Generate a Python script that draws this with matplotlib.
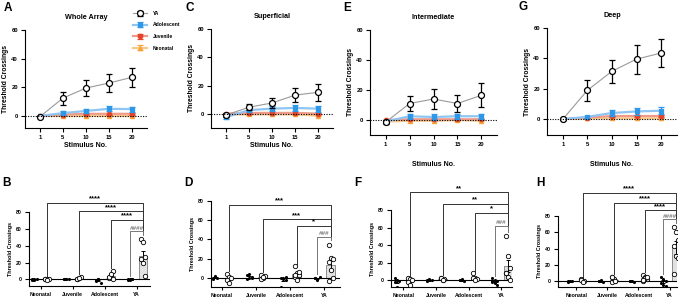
"""Threshold crossings figure (A-H): stimulus curves + group comparison panels."""

import numpy as np
import matplotlib
matplotlib.use('Agg')
import matplotlib.pyplot as plt

plt.rcParams['font.family'] = ['Liberation Sans', 'DejaVu Sans']
plt.rcParams['font.weight'] = 'bold'
plt.rcParams['axes.labelweight'] = 'bold'

# ---- top row data: mean / error at stimulus 1, 5, 10, 15, 20 ----
stim_labels = ['1', '5', '10', '15', '20']
group_order = ['YA', 'Adolescent', 'Juvenile', 'Neonatal']

whole_mean = {'YA': [-0.5, 12.5, 19.5, 23.0, 27.0], 'Adolescent': [0, 2.0, 3.5, 5.0, 4.8],
              'Juvenile': [0, 1.0, 1.5, 1.5, 1.5], 'Neonatal': [0, 0, 0, 0, 0]}
whole_err = {'YA': [0.5, 4.5, 5.5, 6.5, 6.5], 'Adolescent': [0.3, 1.2, 1.5, 1.8, 1.8],
             'Juvenile': [0.2, 0.6, 0.8, 0.8, 0.8], 'Neonatal': [0.2, 0.3, 0.3, 0.3, 0.3]}

superf_mean = {'YA': [-0.5, 5.0, 8.0, 13.5, 15.5], 'Adolescent': [-2.0, 3.0, 4.0, 4.5, 4.0],
               'Juvenile': [0.5, 1.0, 1.0, 1.0, 0.5], 'Neonatal': [0, 0, 0, 0, -1.0]}
superf_err = {'YA': [1.5, 2.0, 3.5, 5.0, 6.0], 'Adolescent': [1.0, 1.5, 1.8, 2.0, 2.0],
              'Juvenile': [0.5, 0.6, 0.6, 0.6, 0.6], 'Neonatal': [0.3, 0.3, 0.3, 0.4, 0.5]}

inter_mean = {'YA': [-1.5, 11.0, 14.0, 11.0, 16.5], 'Adolescent': [-1.0, 2.5, 2.0, 2.5, 2.5],
              'Juvenile': [0, 0.5, 0.5, 0.5, 0.5], 'Neonatal': [-1.0, -0.5, -0.5, 0, -0.5]}
inter_err = {'YA': [1.0, 5.0, 6.5, 5.5, 8.0], 'Adolescent': [0.8, 1.5, 1.8, 1.8, 1.5],
             'Juvenile': [0.3, 0.5, 0.5, 0.5, 0.5], 'Neonatal': [0.5, 0.4, 0.4, 0.4, 0.4]}

deep_mean = {'YA': [0, 19.0, 31.5, 39.5, 43.5], 'Adolescent': [0, 1.5, 4.0, 5.0, 5.5],
             'Juvenile': [0, 1.0, 2.0, 2.0, 2.0], 'Neonatal': [0, 0.5, 0.5, 0.5, 0.5]}
deep_err = {'YA': [0.5, 7.0, 7.5, 9.5, 9.0], 'Adolescent': [0.3, 0.8, 1.8, 2.2, 2.2],
            'Juvenile': [0.2, 0.6, 0.8, 0.9, 0.9], 'Neonatal': [0.2, 0.3, 0.3, 0.3, 0.3]}

# ---- bottom row data: per-animal values, stimulus 1 (filled) and 20 (open) ----
age_groups = ['Neonatal', 'Juvenile', 'Adolescent', 'YA']

whole_s1 = {'Neonatal': [-1, 0, 1, 0, -1], 'Juvenile': [0, 1, 0, 0, 1],
            'Adolescent': [-2, 0, -4, -1, 0], 'YA': [-1, 0, 0, 1, -1, 0]}
whole_s20 = {'Neonatal': [0, 0, 0, 1, -1], 'Juvenile': [0, 2, 3, 1, 2],
             'Adolescent': [2, 5, 10, 3, 6, 1], 'YA': [48, 44, 26, 24, 19, 4]}

superf_s1 = {'Neonatal': [0, 1, 0, -1, 2], 'Juvenile': [3, 0, 1, -1, 4, 0],
             'Adolescent': [0, -1, 1, -9, 0, -2], 'YA': [0, -1, 1, 0, -2]}
superf_s20 = {'Neonatal': [4, 1, 0, -2, -5], 'Juvenile': [3, 0, 2, -1, 1],
              'Adolescent': [12, 5, 3, 1, -2, 6, 3], 'YA': [34, 21, 20, 17, 8, 0, -3]}

inter_s1 = {'Neonatal': [3, 0, -1, -2, -8], 'Juvenile': [0, 1, 0, -1, 0],
            'Adolescent': [0, 1, -1, 0], 'YA': [2, 0, -1, -2, -3, -5, -1]}
inter_s20 = {'Neonatal': [2, 1, 0, -2, -5], 'Juvenile': [2, 0, 1, 3, 0],
             'Adolescent': [8, 3, 1, 2, 0], 'YA': [50, 28, 14, 8, 4, 0, 8]}

deep_s1 = {'Neonatal': [0, 1, 0, -1], 'Juvenile': [0, 1, -1, 0, 2],
           'Adolescent': [0, 1, -1, 0], 'YA': [6, 3, 0, -2, -4, -6]}
deep_s20 = {'Neonatal': [3, 0, 1, 2, -1], 'Juvenile': [5, 2, 0, -1, 3, 1, 6],
            'Adolescent': [8, 5, 3, 1, 4, 6, 2], 'YA': [67, 61, 51, 43, 31, 29, 9]}

# significance brackets: (bracket height, label) for Neonatal, Juvenile, Adolescent, YA(stim1) vs YA(stim20)
whole_sig = [(91, '****'), (81, '****'), (71, '****'), (57, '####')]
superf_sig = [(76, '***'), (61, '***'), (54, '*'), (43, '###')]
inter_sig = [(100, '**'), (87, '**'), (77, '*'), (62, '###')]
deep_sig = [(108, '****'), (96, '****'), (87, '****'), (76, '####')]

styles = {
    'YA': dict(color='#9a9a9a', marker='o', mfc='white', mec='black', ms=4.3, ecolor='black', lw=0.8, z=6),
    'Adolescent': dict(color='#8ec5f2', marker='s', mfc='#2e97e8', mec='#2e97e8', ms=3.4, ecolor='#2e97e8', lw=1.6, z=5),
    'Juvenile': dict(color='#f09a8a', marker='o', mfc='#e5432a', mec='#e5432a', ms=3.2, ecolor='#e5432a', lw=1.6, z=4),
    'Neonatal': dict(color='#f9c98a', marker='^', mfc='#f7a13a', mec='#f7a13a', ms=3.0, ecolor='#f7a13a', lw=1.6, z=3),
}

W, H = 681, 300


def px_axes(fig, left, right, top, bottom):
    return fig.add_axes([left / W, 1 - bottom / H, (right - left) / W, (bottom - top) / H])


def style_axes(ax, fs):
    for s in ('top', 'right'):
        ax.spines[s].set_visible(False)
    for s in ('left', 'bottom'):
        ax.spines[s].set_linewidth(0.8)
    ax.tick_params(width=0.8, length=3, labelsize=fs, pad=2)


def draw_stim(ax, means, errs, title, ylo, xpad):
    x = np.arange(len(stim_labels))
    for g in ['Neonatal', 'Juvenile', 'Adolescent', 'YA']:
        st = styles[g]
        ax.errorbar(x, means[g], yerr=errs[g], color=st['color'], lw=st['lw'],
                    marker=st['marker'], mfc=st['mfc'], mec=st['mec'], ms=st['ms'], mew=0.9,
                    ecolor=st['ecolor'], elinewidth=0.9, capsize=2.3, capthick=0.9,
                    zorder=st['z'], label=g)
    ax.axhline(0, color='black', ls=(0, (1, 1.3)), lw=0.8, zorder=7)
    ax.set_xlim(-0.65, 4.65)
    ax.set_ylim(ylo, 60)
    ax.set_yticks([0, 20, 40, 60])
    ax.set_xticks(x)
    ax.set_xticklabels(stim_labels)
    style_axes(ax, 4.2)
    ax.set_title(title, fontsize=5.2, fontweight='bold', pad=8)
    ax.set_ylabel('Threshold Crossings', fontsize=4.9, labelpad=2)
    ax.set_xlabel('Stimulus No.', fontsize=5.0, labelpad=xpad)


def swarm(n, step):
    return ((np.arange(n) % 3) - 1) * step


def draw_groups(ax, s1, s20, sig, xlim, ylo):
    off = 0.2
    for i, g in enumerate(age_groups):
        a = np.array(s1[g], dtype=float)
        b = np.array(s20[g], dtype=float)
        ax.bar(i + off, b.mean(), width=0.26, color='#e2e2e2', edgecolor='#666666',
               linewidth=0.5, zorder=1)
        ax.errorbar(i + off, b.mean(), yerr=b.std(ddof=1) / np.sqrt(len(b)), color='black',
                    elinewidth=0.7, capsize=1.3, capthick=0.7, zorder=3)
        ax.errorbar(i - off, a.mean(), yerr=a.std(ddof=1) / np.sqrt(len(a)), color='black',
                    elinewidth=0.7, capsize=1.3, capthick=0.7, zorder=3)
        ax.scatter(i - off + swarm(len(a), 0.07), a, s=5, color='black', lw=0, zorder=4)
        ax.scatter(i + off + swarm(len(b), 0.06), b, s=10, facecolor='white',
                   edgecolor='black', linewidth=0.6, zorder=4)
    ax.axhline(0, color='black', lw=0.8, zorder=2)

    # comparison brackets against YA stim 20
    right_x = 3 + off
    right_low = max(s20['YA']) + 5
    for k, (h, lab) in enumerate(sig):
        if k < 3:
            left_x = k + off
            left_low = max(s20[age_groups[k]]) + 3
        else:
            left_x = 3 - off
            left_low = max(s1['YA']) + 3
        col = '#333333' if k < 3 else '#777777'
        ax.plot([left_x, left_x, right_x, right_x], [left_low, h, h, right_low],
                color=col, lw=0.7, clip_on=False, zorder=2)
        ax.text((left_x + right_x) / 2, h + 0.5, lab, ha='center', va='bottom',
                fontsize=5.5 if k < 3 else 4.5, color='black' if k < 3 else '#777777',
                fontweight='bold', fontstyle='normal' if k < 3 else 'italic', clip_on=False)

    ax.set_xlim(*xlim)
    ax.set_ylim(ylo, 80)
    ax.set_yticks([0, 20, 40, 60, 80])
    ax.set_xticks(range(len(age_groups)))
    ax.set_xticklabels(age_groups)
    style_axes(ax, 3.7)
    ax.tick_params(axis='x', length=2)
    ax.set_ylabel('Threshold Crossings', fontsize=3.9, labelpad=2)


fig = plt.figure(figsize=(W / 100, H / 100), dpi=100)

ax_a = px_axes(fig, 25, 147, 30, 128)
draw_stim(ax_a, whole_mean, whole_err, 'Whole Array', -8.4, 1.5)
ax_c = px_axes(fig, 211, 333, 29, 128)
draw_stim(ax_c, superf_mean, superf_err, 'Superficial', -9.6, 1.5)
ax_e = px_axes(fig, 370, 497, 30, 135)
draw_stim(ax_e, inter_mean, inter_err, 'Intermediate', -10, 10)
ax_g = px_axes(fig, 547, 677, 28, 135)
draw_stim(ax_g, deep_mean, deep_err, 'Deep', -10.5, 10)

ax_b = px_axes(fig, 29, 150, 212, 286)
draw_groups(ax_b, whole_s1, whole_s20, whole_sig, (-0.37, 3.42), -7.9)
ax_d = px_axes(fig, 211, 340, 201, 287)
draw_groups(ax_d, superf_s1, superf_s20, superf_sig, (-0.32, 3.47), -9.4)
ax_f = px_axes(fig, 391, 512, 210, 287)
draw_groups(ax_f, inter_s1, inter_s20, inter_sig, (-0.38, 3.33), -7.7)
ax_h = px_axes(fig, 558, 677, 216, 287)
draw_groups(ax_h, deep_s1, deep_s20, deep_sig, (-0.59, 3.24), -6.8)

# legend (ordered YA first)
handles, labels = ax_a.get_legend_handles_labels()
order = [labels.index(g) for g in group_order]
fig.legend([handles[i] for i in order], group_order, loc='upper left',
           bbox_to_anchor=(131 / W, 1 - 9 / H), frameon=False, fontsize=3.6,
           handlelength=2.8, labelspacing=1.3, handletextpad=1.2, borderaxespad=0)

for letter, x, y in [('A', 8, 8), ('C', 190, 8), ('E', 347, 8), ('G', 523, 7),
                     ('B', 6, 183), ('D', 188, 183), ('F', 358, 183), ('H', 540, 183)]:
    fig.text(x / W, 1 - y / H, letter, fontsize=8.5, fontweight='bold', ha='center', va='center')

fig.savefig('out.png', dpi=100)
plt.close(fig)
